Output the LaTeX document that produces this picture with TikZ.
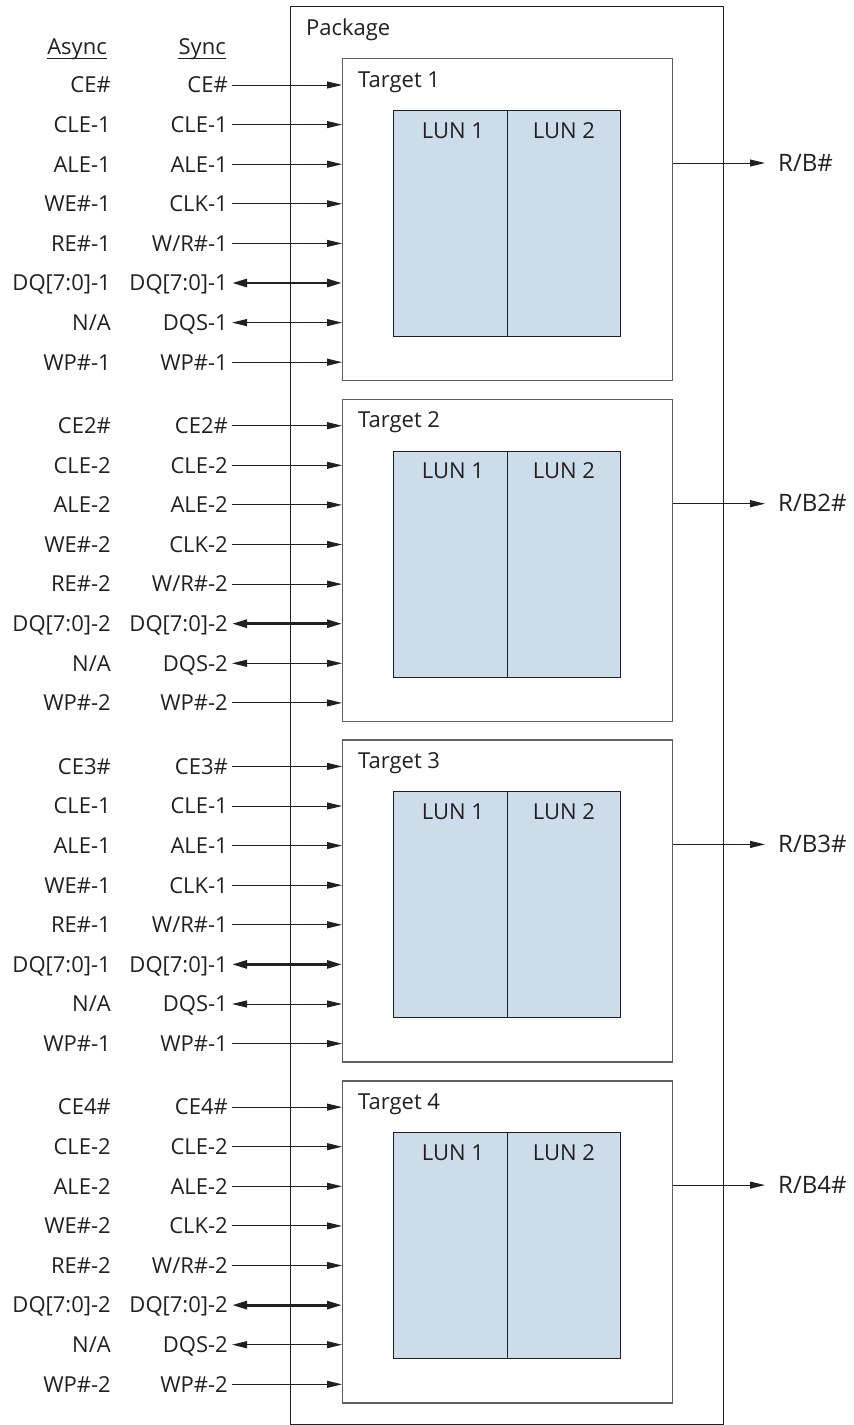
\documentclass[tikz,border=0pt]{standalone}
\usepackage{fontspec}
\setmainfont{Open Sans}
\usetikzlibrary{arrows.meta}
\definecolor{lunblue}{RGB}{204,220,234}
\definecolor{linec}{RGB}{35,31,32}
\definecolor{boxc}{RGB}{95,95,95}
\begin{document}
\begin{tikzpicture}[x=1pt,y=-1pt,
  font=\fontsize{22}{25}\selectfont,
  txt/.style={inner sep=0pt, text=linec},
  sig/.style={txt, anchor=base east},
  conn/.style={draw=linec, line width=1pt},
  tip/.style={conn, -{Triangle[length=15pt,width=7pt]}},
  bidir/.style={conn, {Triangle[length=15pt,width=7pt]}-{Triangle[length=15pt,width=7pt]}},
  bus/.style={conn, line width=2.8pt, {Triangle[length=15pt,width=8pt]}-{Triangle[length=15pt,width=8pt]}},
  targetbox/.style={draw=boxc, line width=1.4pt, fill=white, anchor=north west, inner sep=0pt},
  lunbox/.style={draw=linec, line width=1pt, fill=lunblue, anchor=north west, inner sep=0pt}
]
\useasboundingbox (0,0) rectangle (854,1425);

% package frame
\node (pkg) [draw=linec, line width=1.2pt, anchor=north west, inner sep=0pt,
  minimum width=433pt, minimum height=1418pt] at (290,6) {};
\node (pkglbl) [txt, anchor=base west] at (306,35) {Package};

% headers
\node (hA) [sig] at (107,54) {Async};
\node (hS) [sig] at (226,54) {Sync};
\draw[linec, line width=1pt] ([yshift=-4pt]hA.base west) -- ([yshift=-4pt]hA.base east);
\draw[linec, line width=1pt] ([yshift=-4pt]hS.base west) -- ([yshift=-4pt]hS.base east);

\foreach \t/\ce/\n in {1/CE\#/1, 2/CE2\#/2, 3/CE3\#/1, 4/CE4\#/2}{
  \pgfmathsetmacro\off{340.7*(\t-1)}
  % target box
  \node (T\t) [targetbox, minimum width=330pt, minimum height=322pt] at (342,58+\off) {};
  \node (TL\t) [txt, anchor=base west] at (358,87+\off) {Target \t};
  % LUN box
  \node (L\t) [lunbox, minimum width=227pt, minimum height=226pt] at (393,110+\off) {};
  \draw[linec, line width=1pt] (L\t.north) -- (L\t.south);
  \node (LA\t) [txt, anchor=base] at (453,138+\off) {LUN 1};
  \node (LB\t) [txt, anchor=base] at (564,138+\off) {LUN 2};
  % ready/busy
  \ifnum\t=1 \def\rb{R/B\#}\else\def\rb{R/B\t\#}\fi
  \node (rb\t) [txt, anchor=base west, font=\fontsize{24}{28}\selectfont] at (778,171+\off) {\rb};
  \coordinate (re\t) at (765,163+\off);
  \draw[tip] (T\t.east |- re\t) -- (re\t);
  % signals
  \foreach \i/\as/\sy/\st in {0/{\ce}/{\ce}/tip, 1/{CLE-\n}/{CLE-\n}/tip, 2/{ALE-\n}/{ALE-\n}/tip,
      3/{WE\#-\n}/{CLK-\n}/tip, 4/{RE\#-\n}/{W/R\#-\n}/tip, 5/{DQ[7:0]-\n}/{DQ[7:0]-\n}/bus,
      6/{N/A}/{DQS-\n}/bidir, 7/{WP\#-\n}/{WP\#-\n}/tip}{
    \pgfmathsetmacro\yy{85+\off+39.6*\i}
    \node (a\t-\i) [sig] at (111,\yy+7.8) {\as};
    \node (s\t-\i) [sig] at (228,\yy+7.8) {\sy};
    \coordinate (c\t-\i) at (232,\yy);
    \draw[\st] (c\t-\i) -- (T\t.west |- c\t-\i);
  }
}
\end{tikzpicture}
\end{document}
